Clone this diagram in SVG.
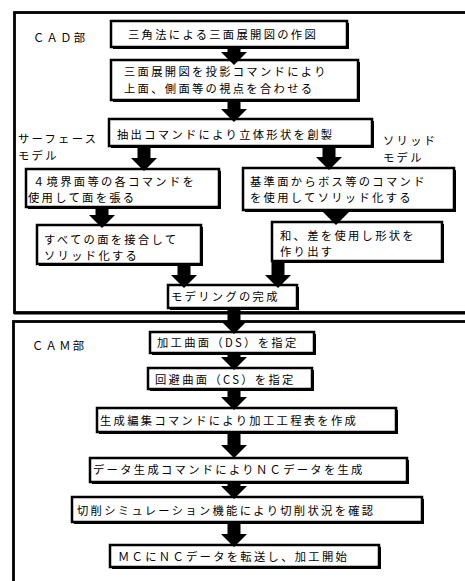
<svg xmlns="http://www.w3.org/2000/svg" width="465" height="581" viewBox="0 0 465 581">
<defs>
<style>
.bg{fill:#fff}
.sh{fill:#000}
.bx{fill:#fff;stroke:#000;stroke-width:2.5}
.fr{fill:none;stroke:#000;stroke-width:2.8}
.t{font-family:"Noto Sans CJK JP","Noto Sans CJK SC",sans-serif;font-size:11.3px;letter-spacing:2.3px;fill:#000}
.ar{fill:#000}
</style>
</defs>
<rect class="bg" x="0" y="0" width="465" height="581"/>
<g id="cad-frame">
<rect class="fr" x="14.5" y="12.5" width="470" height="300"/>
<line x1="14" y1="313.5" x2="470" y2="313.5" stroke="#000" stroke-width="2"/>
<text class="t" x="33" y="41.5">ＣＡＤ部</text>
</g>
<g id="cam-frame">
<rect class="fr" x="13.5" y="321.5" width="470" height="280"/>
<text class="t" x="32" y="349.5">ＣＡＭ部</text>
</g>
<g id="label-surface">
<text class="t" x="18" y="143">サーフェース<tspan x="18" dy="16.5">モデル</tspan></text>
</g>
<g id="label-solid">
<text class="t" x="383" y="145">ソリッド<tspan x="383" dy="16.5">モデル</tspan></text>
</g>
<g id="n1">
<rect class="sh" x="113" y="23" width="236" height="26"/>
<rect class="bx" x="111" y="21" width="236" height="26"/>
<text class="t" x="128" y="38.5">三角法による三面展開図の作図</text>
</g>
<g id="n2">
<rect class="sh" x="113" y="62" width="247" height="40"/>
<rect class="bx" x="111" y="60" width="247" height="40"/>
<text class="t" x="124" y="76">三面展開図を投影コマンドにより<tspan x="124" dy="16.5">上面、側面等の視点を合わせる</tspan></text>
</g>
<g id="n3">
<rect class="sh" x="111" y="121" width="263" height="27"/>
<rect class="bx" x="109" y="119" width="263" height="27"/>
<text class="t" x="117" y="138.5">抽出コマンドにより立体形状を創製</text>
</g>
<g id="n4">
<rect class="sh" x="28" y="171" width="193" height="38"/>
<rect class="bx" x="26" y="169" width="193" height="38"/>
<text class="t" x="33" y="185.5">４境界面等の各コマンドを<tspan x="28" dy="16.5">使用して面を張る</tspan></text>
</g>
<g id="n5">
<rect class="sh" x="245" y="170" width="211" height="42"/>
<rect class="bx" x="243" y="168" width="211" height="42"/>
<text class="t" x="250" y="185.5">基準面からボス等のコマンド<tspan x="250" dy="16.5">を使用してソリッド化する</tspan></text>
</g>
<g id="n6">
<rect class="sh" x="39" y="227" width="164" height="39"/>
<rect class="bx" x="37" y="225" width="164" height="39"/>
<text class="t" x="44" y="243.5">すべての面を接合して<tspan x="44" dy="16.5">ソリッド化する</tspan></text>
</g>
<g id="n7">
<rect class="sh" x="274" y="224" width="170" height="39"/>
<rect class="bx" x="272" y="222" width="170" height="39"/>
<text class="t" x="280" y="239.5">和、差を使用し形状を<tspan x="280" dy="16.5">作り出す</tspan></text>
</g>
<g id="n8">
<rect class="sh" x="170" y="287" width="129" height="23"/>
<rect class="bx" x="168" y="285" width="129" height="23"/>
<text class="t" x="171" y="301">モデリングの完成</text>
</g>
<g id="n9">
<rect class="sh" x="152" y="334" width="164" height="21"/>
<rect class="bx" x="150" y="332" width="164" height="21"/>
<text class="t" x="157" y="347">加工曲面（DS）を指定</text>
</g>
<g id="n10">
<rect class="sh" x="150" y="370" width="164" height="21"/>
<rect class="bx" x="148" y="368" width="164" height="21"/>
<text class="t" x="155" y="383.5">回避曲面（CS）を指定</text>
</g>
<g id="n11">
<rect class="sh" x="99" y="410" width="299" height="24"/>
<rect class="bx" x="97" y="408" width="299" height="24"/>
<text class="t" x="100" y="424.5">生成編集コマンドにより加工工程表を作成</text>
</g>
<g id="n12">
<rect class="sh" x="92" y="460" width="317" height="24"/>
<rect class="bx" x="90" y="458" width="317" height="24"/>
<text class="t" x="93" y="474">データ生成コマンドによりＮＣデータを生成</text>
</g>
<g id="n13">
<rect class="sh" x="74" y="499" width="350" height="25"/>
<rect class="bx" x="72" y="497" width="350" height="25"/>
<text class="t" x="77" y="515">切削シミュレーション機能により切削状況を確認</text>
</g>
<g id="n14">
<rect class="sh" x="112" y="547" width="269" height="22"/>
<rect class="bx" x="110" y="545" width="269" height="22"/>
<text class="t" x="118" y="560.5">ＭＣにＮＣデータを転送し、加工開始</text>
</g>
<g id="connectors">
<path class="ar" d="M227.5,48 H240.5 V52 H247 L234,65 L221,52 H227.5 Z"/>
<path class="ar" d="M227.5,100 H240.5 V109 H247 L234,122 L221,109 H227.5 Z"/>
<path class="ar" d="M137.5,147 H150.5 V158 H157 L144,171 L131,158 H137.5 Z"/>
<path class="ar" d="M322.5,147 H335.5 V157 H342 L329,170 L316,157 H322.5 Z"/>
<path class="ar" d="M95.5,208 H108.5 V215 H115 L102,228 L89,215 H95.5 Z"/>
<path class="ar" d="M329.5,211 H342.5 V212 H349 L336,225 L323,212 H329.5 Z"/>
<path class="ar" d="M177.5,265 H190.5 V275 H197 L184,288 L171,275 H177.5 Z"/>
<path class="ar" d="M271.5,262 H284.5 V275 H291 L278,288 L265,275 H271.5 Z"/>
<path class="ar" d="M227.5,309 H240.5 V321 H247 L234,334 L221,321 H227.5 Z"/>
<path class="ar" d="M227.5,353 H240.5 V357 H247 L234,370 L221,357 H227.5 Z"/>
<path class="ar" d="M227.5,390 H240.5 V397 H247 L234,410 L221,397 H227.5 Z"/>
<path class="ar" d="M227.5,433 H240.5 V445 H247 L234,458 L221,445 H227.5 Z"/>
<path class="ar" d="M227.5,483 H240.5 V486 H247 L234,499 L221,486 H227.5 Z"/>
<path class="ar" d="M227.5,523 H240.5 V534 H247 L234,547 L221,534 H227.5 Z"/>
</g>
</svg>
